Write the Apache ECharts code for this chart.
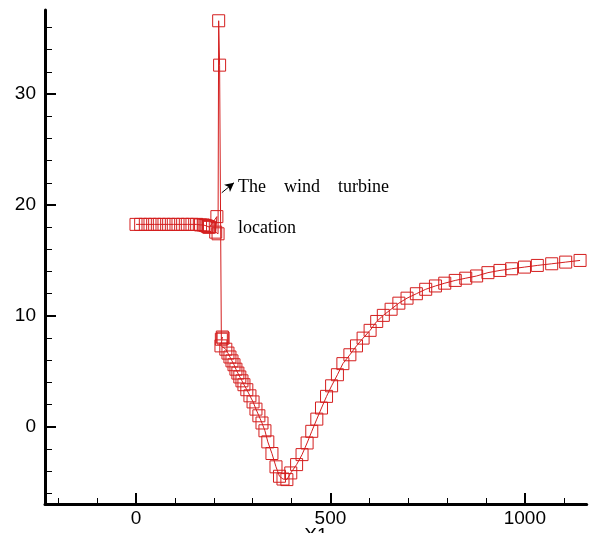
<!DOCTYPE html>
<html>
<head>
<meta charset="utf-8">
<script src="https://cdn.jsdelivr.net/npm/echarts@6/dist/echarts.min.js"></script>
<style>html,body{margin:0;padding:0;background:#fff;}#c{width:612px;height:533px;}</style>
</head>
<body>
<div id="c"></div>
<script>
// ---- data ----
var xValues = [
  0, 12, 24, 36, 48, 60, 72, 84, 96, 108, 120, 132, 144, 156, 166, 173, 178, 182, 185, 187, 189,
  208, 205, 211, 212.6, 215, 219.5,
  222, 224, 218.5,
  231, 236.5, 241.6, 246.8, 252, 257, 262, 267, 272.5, 277.6, 285, 293, 301, 308.5, 316, 324, 331.6, 339, 349.6, 360, 369, 378,
  388, 398, 413, 427, 440, 452, 465, 477, 490, 503, 518, 532, 550, 567, 584, 602, 619, 636, 656, 676, 697, 721, 745, 770, 794, 821, 848, 876, 905, 936, 966, 999, 1032, 1069, 1105, 1142
];
var yValues = [
  18.25, 18.25, 18.25, 18.25, 18.25, 18.25, 18.25, 18.25, 18.25, 18.25, 18.25, 18.25, 18.25, 18.25, 18.2, 18.2, 18.15, 18.1, 18.05, 18.0, 18.0,
  18.95, 17.55, 17.4, 36.6, 32.6, 7.9,
  8.1, 8.0, 7.3,
  7.0, 6.65, 6.3, 5.95, 5.6, 5.2, 4.85, 4.5, 4.15, 3.8, 3.35, 2.8, 2.25, 1.6, 1.0, 0.35, -0.35, -1.35, -2.4, -3.6, -4.45, -4.7,
  -4.75, -4.15, -3.4, -2.5, -1.45, -0.4, 0.7, 1.7, 2.75, 3.7, 4.7, 5.7, 6.5, 7.3, 8.0, 8.7, 9.5, 10.05, 10.6, 11.15, 11.6, 12.0, 12.4, 12.7, 12.95, 13.2, 13.4, 13.6, 13.9, 14.1, 14.25, 14.4, 14.55, 14.7, 14.85, 15.0
];
var xMajorTicks = [0, 500, 1000];
var xMinorTicks = [-200, -100, 100, 200, 300, 400, 600, 700, 800, 900, 1100];
var yMajorTicks = [0, 10, 20, 30];
var yMinorTicks = [-6, -4, -2, 2, 4, 6, 8, 12, 14, 16, 18, 22, 24, 26, 28, 32, 34, 36];
var xRange = [-234, 1159];
var yRange = [-6.95, 37.57];
var xName = 'X1';
var annotLines = ['The    wind    turbine', 'location'];
var annotTextAnchor = [262.4, 21.55];   // data coords of first text line (left, middle)
var annotLineStep = 3.65;               // data units between text lines
var arrowFrom = [220.5, 21.1];
var arrowTo = [252, 22.0];

var red = '#d41e1e';
var pts = xValues.map(function (x, i) { return [x, yValues[i]]; });

var chart = echarts.init(document.getElementById('c'), null, {renderer: 'canvas'});
var labelFont = {fontFamily: '"Liberation Sans", Arial, sans-serif', fontSize: 19, color: '#000'};
function plain(v) { return String(v); }

function xAxisCfg(major) {
  return {
    type: 'value', position: 'bottom', min: xRange[0], max: xRange[1],
    name: major ? xName : '', nameLocation: 'middle', nameGap: 22,
    nameMoveOverlap: false,
    nameTextStyle: labelFont,
    axisLine: {show: major, onZero: false, lineStyle: {color: '#000', width: 3}},
    axisTick: {show: true, inside: true, length: major ? 11 : 6,
      customValues: major ? xMajorTicks : xMinorTicks,
      lineStyle: {color: '#000', width: major ? 2 : 1}},
    axisLabel: major ? Object.assign({show: true, margin: 5, customValues: xMajorTicks, formatter: plain}, labelFont) : {show: false},
    splitLine: {show: false}
  };
}
function yAxisCfg(major) {
  return {
    type: 'value', position: 'left', min: yRange[0], max: yRange[1],
    axisLine: {show: major, onZero: false, lineStyle: {color: '#000', width: 3}},
    axisTick: {show: true, inside: true, length: major ? 11 : 7,
      customValues: major ? yMajorTicks : yMinorTicks,
      lineStyle: {color: '#000', width: major ? 2 : 1}},
    axisLabel: major ? Object.assign({show: true, margin: 9, customValues: yMajorTicks, formatter: plain}, labelFont) : {show: false},
    splitLine: {show: false}
  };
}

chart.setOption({
  animation: false,
  backgroundColor: '#fff',
  grid: {left: 45, right: 25.3, top: 10, bottom: 29, containLabel: false, outerBoundsMode: 'none'},
  xAxis: [xAxisCfg(true), xAxisCfg(false)],
  yAxis: [yAxisCfg(true), yAxisCfg(false)],
  series: [{
    type: 'line',
    xAxisIndex: 0, yAxisIndex: 0,
    data: pts,
    symbol: 'rect', symbolSize: 12,
    showAllSymbol: true,
    itemStyle: {color: 'rgba(0,0,0,0)', borderColor: red, borderWidth: 1},
    lineStyle: {color: red, width: 1},
    markLine: {
      silent: true, animation: false,
      symbol: ['none', 'arrow'], symbolSize: [7, 9],
      lineStyle: {color: '#000', width: 1, type: 'solid'},
      label: {show: false},
      data: [[{coord: arrowFrom}, {coord: arrowTo}]]
    }
  }]
});

var g = [];
annotLines.forEach(function (t, i) {
  var p = chart.convertToPixel({xAxisIndex: 0, yAxisIndex: 0}, [annotTextAnchor[0], annotTextAnchor[1] - i * annotLineStep]);
  g.push({type: 'text', x: p[0], y: p[1], z: 100,
    style: {text: t, font: '18px "Liberation Serif", "Times New Roman", serif', fill: '#000', align: 'left', verticalAlign: 'middle'}});
});
chart.setOption({graphic: g});
</script>
</body>
</html>
